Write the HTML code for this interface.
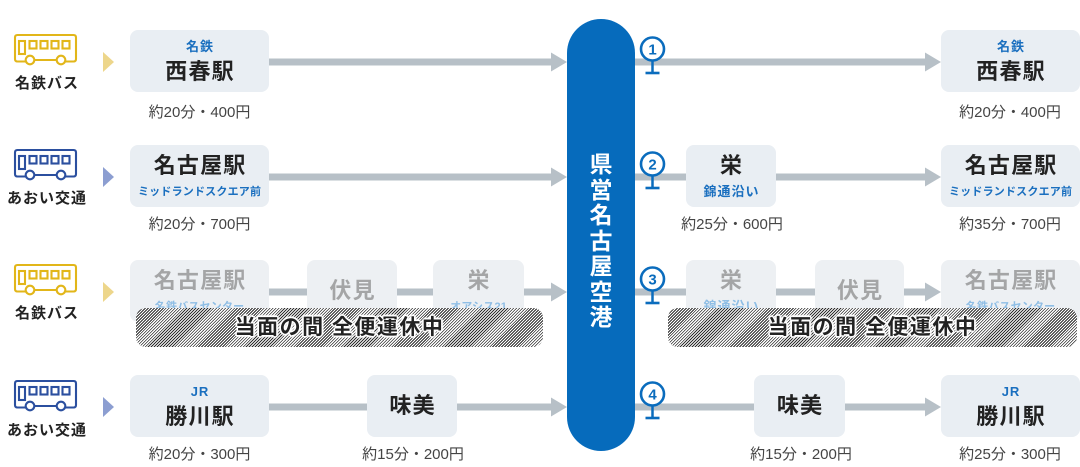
<!DOCTYPE html>
<html lang="ja">
<head>
<meta charset="utf-8">
<style>
  html,body{margin:0;padding:0;background:#fff;}
  body{width:1080px;height:467px;position:relative;overflow:hidden;font-family:"Liberation Sans","Noto Sans CJK JP",sans-serif;}
  svg.bg{position:absolute;left:0;top:0;z-index:0;}
  .box{position:absolute;height:62px;border-radius:8px;background:#e9eef3;z-index:1;}
  .box .m{position:absolute;left:0;right:0;text-align:center;font-size:22px;font-weight:bold;color:#222;line-height:26px;letter-spacing:1.2px;padding-left:1.2px;white-space:nowrap;}
  .box .s{position:absolute;left:0;right:0;text-align:center;font-size:13px;font-weight:bold;color:#1a6fbf;line-height:16px;letter-spacing:1px;padding-left:1px;white-space:nowrap;}
  .box .s.sm{font-size:11px;letter-spacing:0.2px;padding-left:0.2px;}
  .T .s{top:9px;} .T .m{top:29px;}
  .B .m{top:8px;} .B .s{top:39px;}
  .S .m{top:18px;}
  .fade{background:#edf0f3;}
  .fade .m{color:#a4a5a6;}
  .fade .s{color:#8fbee5;}
  .p{position:absolute;width:200px;margin-left:-100px;text-align:center;font-size:15px;color:#444;line-height:20px;white-space:nowrap;z-index:1;}
  .lab{position:absolute;width:100px;left:-3px;text-align:center;font-size:15px;font-weight:bold;color:#222;line-height:20px;letter-spacing:1px;white-space:nowrap;}
  .hatch{position:absolute;height:39px;top:308px;border-radius:10px;z-index:2;
    background:repeating-linear-gradient(135deg,#2e2e2e 0px,#2e2e2e 0.9px,#ffffff 0.9px,#ffffff 2.1px);
    text-align:center;line-height:39px;font-size:21px;font-weight:bold;color:#222;letter-spacing:1.5px;white-space:nowrap;
    text-shadow:1px 0 0 #fff,-1px 0 0 #fff,0 1px 0 #fff,0 -1px 0 #fff,1px 1px 0 #fff,-1px -1px 0 #fff,1px -1px 0 #fff,-1px 1px 0 #fff,2px 0 1px #fff,-2px 0 1px #fff,0 2px 1px #fff,0 -2px 1px #fff;}
  .pill{position:absolute;left:567px;width:68px;top:152px;z-index:1;text-align:center;color:#fff;font-size:23px;font-weight:bold;line-height:25.5px;}
</style>
</head>
<body>
<svg class="bg" width="1080" height="467" viewBox="0 0 1080 467" xmlns="http://www.w3.org/2000/svg">
  <defs>
    <g id="bus" fill="none" stroke-width="2.1">
      <path d="M25.7 61.5 H17.5 Q15 61.5 15 59 V37.5 Q15 35 17.5 35 H73.5 Q76 35 76 37.5 V59 Q76 61.5 73.5 61.5 H65.3"/>
      <circle cx="30" cy="60" r="4.3"/>
      <circle cx="61" cy="60" r="4.3"/>
      <path d="M34.3 60 H56.7"/>
      <rect x="19" y="41" width="6" height="13"/>
      <rect x="29.5" y="41" width="7" height="7.5"/>
      <rect x="40.5" y="41" width="7" height="7.5"/>
      <rect x="51.5" y="41" width="7" height="7.5"/>
      <rect x="62.5" y="41" width="7" height="7.5"/>
    </g>
    <g id="stop">
      <line x1="652.5" y1="60" x2="652.5" y2="73" stroke="#0a6cbd" stroke-width="2.5"/>
      <line x1="645.5" y1="73" x2="659.5" y2="73" stroke="#0a6cbd" stroke-width="2.6"/>
      <circle cx="652.5" cy="49" r="11.5" fill="#fff" stroke="#0a6cbd" stroke-width="2.6"/>
    </g>
  </defs>

  <use href="#bus" stroke="#e2b619"/>
  <use href="#bus" stroke="#2b4f9f" transform="translate(0,115)"/>
  <use href="#bus" stroke="#e2b619" transform="translate(0,230)"/>
  <use href="#bus" stroke="#2b4f9f" transform="translate(0,346)"/>

  <polygon points="103,52 114,62 103,72" fill="#edd68b"/>
  <polygon points="103,167 114,177 103,187" fill="#8c9ed1"/>
  <polygon points="103,282 114,292 103,302" fill="#edd68b"/>
  <polygon points="103,397 114,407 103,417" fill="#8c9ed1"/>

  <g stroke="#b7c0c7" stroke-width="7" fill="none">
    <path d="M269 62 H553 M635 62 H926"/>
    <path d="M269 177 H553 M635 177 H686 M776 177 H926"/>
    <path d="M269 292 H307 M397 292 H433 M524 292 H553 M635 292 H686 M776 292 H815 M904 292 H926"/>
    <path d="M269 407 H367 M457 407 H553 M635 407 H754 M845 407 H926"/>
  </g>
  <g fill="#b7c0c7">
    <polygon points="551,52.5 567,62 551,71.5"/>
    <polygon points="925,52.5 941,62 925,71.5"/>
    <polygon points="551,167.5 567,177 551,186.5"/>
    <polygon points="925,167.5 941,177 925,186.5"/>
    <polygon points="551,282.5 567,292 551,301.5"/>
    <polygon points="925,282.5 941,292 925,301.5"/>
    <polygon points="551,397.5 567,407 551,416.5"/>
    <polygon points="925,397.5 941,407 925,416.5"/>
  </g>

  <rect x="567" y="19" width="68" height="432" rx="34" ry="34" fill="#066bbc"/>

  <use href="#stop"/>
  <use href="#stop" transform="translate(0,115)"/>
  <use href="#stop" transform="translate(0,230)"/>
  <use href="#stop" transform="translate(0,345)"/>
  <g font-family="Liberation Sans, Noto Sans CJK JP, sans-serif" font-size="15" font-weight="bold" fill="#0a6cbd" text-anchor="middle">
    <text x="652.5" y="54.5">1</text>
    <text x="652.5" y="169.5">2</text>
    <text x="652.5" y="284.5">3</text>
    <text x="652.5" y="399.5">4</text>
  </g>
</svg>

<div class="lab" style="top:74px;">名鉄バス</div>
<div class="lab" style="top:189px;">あおい交通</div>
<div class="lab" style="top:304px;">名鉄バス</div>
<div class="lab" style="top:421px;">あおい交通</div>

<div class="pill">県<br>営<br>名<br>古<br>屋<br>空<br>港</div>

<div class="box T" style="left:130px;top:30px;width:139px;"><div class="s">名鉄</div><div class="m">西春駅</div></div>
<div class="box T" style="left:941px;top:30px;width:139px;"><div class="s">名鉄</div><div class="m">西春駅</div></div>
<div class="p" style="left:199.5px;top:103px;">約20分・400円</div>
<div class="p" style="left:1010px;top:103px;">約20分・400円</div>

<div class="box B" style="left:130px;top:145px;width:139px;"><div class="m">名古屋駅</div><div class="s sm">ミッドランドスクエア前</div></div>
<div class="box B" style="left:686px;top:145px;width:90px;"><div class="m">栄</div><div class="s">錦通沿い</div></div>
<div class="box B" style="left:941px;top:145px;width:139px;"><div class="m">名古屋駅</div><div class="s sm">ミッドランドスクエア前</div></div>
<div class="p" style="left:199.5px;top:215px;">約20分・700円</div>
<div class="p" style="left:732px;top:215px;">約25分・600円</div>
<div class="p" style="left:1010px;top:215px;">約35分・700円</div>

<div class="box B fade" style="left:130px;top:260px;width:139px;"><div class="m">名古屋駅</div><div class="s sm">名鉄バスセンター</div></div>
<div class="box S fade" style="left:307px;top:260px;width:90px;"><div class="m">伏見</div></div>
<div class="box B fade" style="left:433px;top:260px;width:91px;"><div class="m">栄</div><div class="s sm">オアシス21</div></div>
<div class="box B fade" style="left:686px;top:260px;width:90px;"><div class="m">栄</div><div class="s">錦通沿い</div></div>
<div class="box S fade" style="left:815px;top:260px;width:89px;"><div class="m">伏見</div></div>
<div class="box B fade" style="left:941px;top:260px;width:139px;"><div class="m">名古屋駅</div><div class="s sm">名鉄バスセンター</div></div>
<div class="hatch" style="left:136px;width:407px;">当面の間 全便運休中</div>
<div class="hatch" style="left:668px;width:409px;">当面の間 全便運休中</div>

<div class="box T" style="left:130px;top:375px;width:139px;"><div class="s">JR</div><div class="m">勝川駅</div></div>
<div class="box S" style="left:367px;top:375px;width:90px;"><div class="m">味美</div></div>
<div class="box S" style="left:754px;top:375px;width:91px;"><div class="m">味美</div></div>
<div class="box T" style="left:941px;top:375px;width:139px;"><div class="s">JR</div><div class="m">勝川駅</div></div>
<div class="p" style="left:199.5px;top:445px;">約20分・300円</div>
<div class="p" style="left:413px;top:445px;">約15分・200円</div>
<div class="p" style="left:801px;top:445px;">約15分・200円</div>
<div class="p" style="left:1010px;top:445px;">約25分・300円</div>
</body>
</html>
